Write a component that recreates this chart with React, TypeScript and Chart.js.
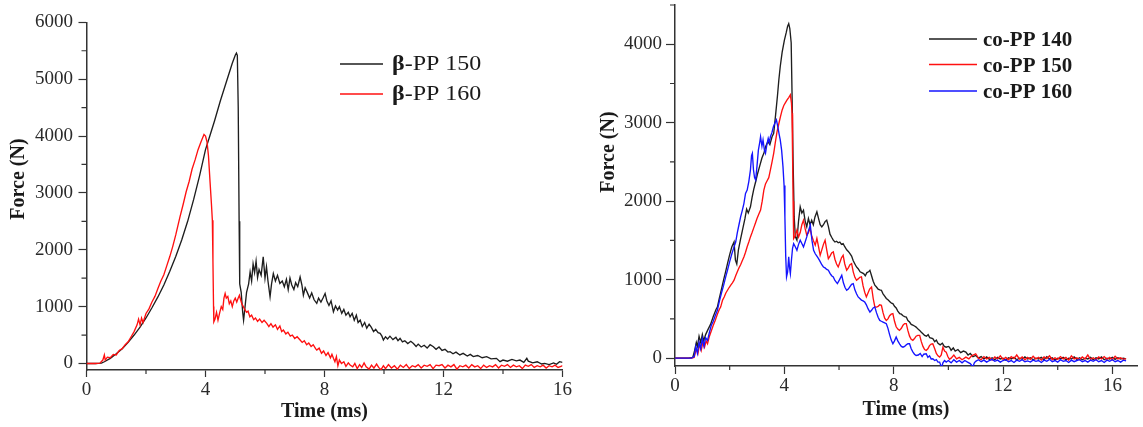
import React, { useEffect, useRef } from "react";
import { Chart, registerables } from "chart.js";

Chart.register(...registerables);

type Pt = [number, number];

// ---------- Left panel: beta-PP (time ms, force N) ----------
const betaPP150: Pt[] = [
  [0, 0], [0.3, 0], [0.5, 5], [0.6, 30], [0.8, 90], [1.0, 170], [1.2, 260], [1.4, 370], [1.6, 500], [1.8, 640],
  [2.0, 800], [2.2, 980], [2.4, 1170], [2.6, 1380], [2.8, 1620], [3.0, 1880], [3.2, 2170], [3.4, 2500], [3.6, 2880],
  [3.8, 3300], [4.0, 3760], [4.15, 4010], [4.3, 4260], [4.5, 4620], [4.7, 4950], [4.9, 5280], [5.0, 5420], [5.04, 5460],
  [5.07, 5420], [5.1, 4500], [5.13, 2500], [5.15, 1400], [5.2, 1250], [5.25, 900], [5.28, 760], [5.32, 950], [5.38, 1250],
  [5.45, 1400], [5.5, 1610], [5.55, 1450], [5.6, 1750], [5.65, 1600], [5.7, 1800], [5.75, 1510], [5.8, 1650], [5.87, 1550],
  [5.94, 1874], [6.0, 1500], [6.05, 1700], [6.1, 1450], [6.17, 1172], [6.22, 1400], [6.28, 1580], [6.35, 1450], [6.42, 1550],
  [6.5, 1407], [6.58, 1450], [6.65, 1350], [6.72, 1480], [6.78, 1300], [6.84, 1500], [6.9, 1380], [6.97, 1300], [7.03, 1420],
  [7.1, 1350], [7.18, 1520], [7.24, 1380], [7.29, 1200], [7.35, 1330], [7.42, 1250], [7.5, 1150], [7.57, 1240], [7.65, 1120],
  [7.74, 1056], [7.8, 1150], [7.88, 1080], [7.95, 1150], [8.02, 1231], [8.08, 1100], [8.15, 1020], [8.22, 1100], [8.3, 909],
  [8.37, 1010], [8.44, 940], [8.5, 1000], [8.58, 880], [8.65, 950], [8.72, 850], [8.8, 900], [8.86, 821], [8.93, 880],
  [9.0, 760], [9.07, 850], [9.13, 720], [9.2, 763], [9.27, 650], [9.35, 720], [9.42, 620], [9.5, 690], [9.57, 640],
  [9.65, 560], [9.72, 600], [9.8, 540], [9.87, 530], [9.93, 480], [9.98, 412], [10.05, 470], [10.12, 430], [10.2, 480],
  [10.3, 420], [10.4, 460], [10.47, 400], [10.54, 440], [10.62, 380], [10.7, 400], [10.8, 350], [10.9, 390], [10.99, 352],
  [11.08, 300], [11.15, 340], [11.25, 290], [11.35, 320], [11.45, 270], [11.55, 330], [11.66, 295], [11.75, 250], [11.85, 290],
  [11.95, 230], [12.05, 250], [12.15, 200], [12.22, 207], [12.32, 170], [12.42, 200], [12.55, 150], [12.66, 178], [12.8, 130],
  [12.9, 160], [13.0, 120], [13.15, 140], [13.3, 100], [13.45, 120], [13.6, 80], [13.78, 90], [13.9, 32], [14.0, 60],
  [14.15, 40], [14.3, 70], [14.45, 45], [14.57, 60], [14.7, 20], [14.8, 90], [14.85, 40], [15.0, 10], [15.15, 30],
  [15.3, -10], [15.4, 0], [15.55, -20], [15.7, 10], [15.8, -15], [15.9, 32], [16.0, 20],
];

const betaPP160: Pt[] = [
  [0, 0], [0.3, 0], [0.45, 5], [0.55, 60], [0.6, 150], [0.63, 60], [0.7, 110], [0.8, 100], [0.9, 160], [1.0, 150],
  [1.1, 230], [1.2, 260], [1.3, 330], [1.4, 380], [1.5, 470], [1.6, 560], [1.7, 680], [1.75, 780], [1.8, 680], [1.85, 800],
  [1.9, 720], [2.0, 880], [2.1, 960], [2.2, 1080], [2.3, 1180], [2.4, 1320], [2.5, 1450], [2.6, 1560], [2.7, 1720],
  [2.8, 1880], [2.9, 2060], [3.0, 2260], [3.14, 2575], [3.25, 2800], [3.35, 3020], [3.45, 3200], [3.55, 3420], [3.65, 3580],
  [3.75, 3760], [3.85, 3900], [3.95, 4026], [4.0, 4000], [4.05, 3900], [4.1, 3650], [4.15, 3220], [4.2, 2800], [4.23, 2518],
  [4.25, 1800], [4.27, 1000], [4.28, 733], [4.32, 780], [4.37, 900], [4.42, 760], [4.48, 900], [4.53, 1000], [4.58, 950],
  [4.62, 1150], [4.66, 1231], [4.7, 1150], [4.75, 1180], [4.8, 1050], [4.85, 1100], [4.9, 1000], [4.95, 1100], [5.0, 1150],
  [5.05, 1080], [5.1, 1150], [5.14, 1200], [5.18, 1120], [5.22, 1050], [5.27, 1000], [5.32, 950], [5.38, 900], [5.43, 920],
  [5.49, 821], [5.55, 850], [5.62, 770], [5.68, 800], [5.75, 740], [5.82, 780], [5.9, 720], [5.97, 760], [6.06, 705],
  [6.13, 650], [6.2, 700], [6.27, 640], [6.35, 680], [6.42, 600], [6.5, 660], [6.56, 560], [6.62, 588], [6.7, 520],
  [6.77, 550], [6.85, 480], [6.92, 500], [7.0, 440], [7.08, 470], [7.18, 412], [7.25, 370], [7.32, 400], [7.4, 330],
  [7.47, 360], [7.55, 300], [7.62, 330], [7.7, 260], [7.74, 237], [7.82, 270], [7.9, 180], [7.97, 220], [8.05, 140],
  [8.12, 190], [8.2, 100], [8.25, 160], [8.3, 91], [8.35, 30], [8.4, 120], [8.45, -40], [8.5, 60], [8.57, 0], [8.65, 30],
  [8.72, -50], [8.8, 10], [8.86, -26], [8.95, -60], [9.02, 0], [9.1, -90], [9.18, -20], [9.25, -70], [9.33, 10], [9.4, -60],
  [9.5, -100], [9.58, -30], [9.66, -80], [9.75, -10], [9.82, -70], [9.9, -110], [9.98, -40], [10.05, -90], [10.15, -20],
  [10.25, -80], [10.35, -40], [10.45, -100], [10.55, -30], [10.65, -70], [10.75, -20], [10.85, -90], [10.95, -40], [11.05, -60],
  [11.15, -20], [11.25, -80], [11.35, -30], [11.45, -50], [11.55, -20], [11.65, -90], [11.75, -30], [11.85, -40], [11.95, -20],
  [12.05, -80], [12.15, -30], [12.25, -60], [12.35, -20], [12.45, -100], [12.55, -40], [12.65, -60], [12.75, -30], [12.85, -80],
  [12.95, -20], [13.05, -60], [13.15, -40], [13.25, -90], [13.35, -30], [13.45, -70], [13.55, -40], [13.65, -60], [13.75, -20],
  [13.85, -80], [13.95, -30], [14.05, -50], [14.15, -20], [14.25, -70], [14.35, -30], [14.45, -60], [14.55, -40], [14.65, -90],
  [14.75, -30], [14.85, -50], [14.95, -20], [15.05, -70], [15.15, -40], [15.25, -60], [15.35, -30], [15.45, -80], [15.55, -40],
  [15.65, -60], [15.75, -30], [15.85, -70], [15.95, -50], [16.0, -40],
];

// ---------- Right panel: co-PP ----------
const coPP140: Pt[] = [
  [0, 0], [0.5, 0], [0.65, 10], [0.72, 100], [0.78, 200], [0.82, 150], [0.88, 280], [0.94, 200], [1.0, 300], [1.05, 220],
  [1.12, 300], [1.2, 360], [1.3, 430], [1.4, 530], [1.5, 620], [1.55, 651], [1.62, 760], [1.7, 880], [1.78, 1000],
  [1.85, 1100], [1.92, 1205], [2.0, 1320], [2.08, 1420], [2.16, 1482], [2.21, 1250], [2.26, 1200], [2.32, 1380], [2.4, 1520],
  [2.48, 1650], [2.56, 1780], [2.62, 1900], [2.68, 1850], [2.76, 1929], [2.82, 2050], [2.88, 2150], [2.95, 2248], [3.02, 2350],
  [3.1, 2450], [3.18, 2550], [3.25, 2610], [3.32, 2700], [3.4, 2760], [3.47, 2720], [3.55, 2820], [3.61, 2866], [3.68, 3100],
  [3.75, 3350], [3.8, 3550], [3.85, 3716], [3.92, 3900], [4.0, 4050], [4.07, 4150], [4.12, 4230], [4.16, 4262], [4.2, 4200],
  [4.25, 4020], [4.28, 3400], [4.32, 2500], [4.36, 1800], [4.4, 1550], [4.46, 1503], [4.52, 1750], [4.58, 1929], [4.64, 1850],
  [4.7, 1886], [4.76, 1750], [4.82, 1673], [4.88, 1780], [4.94, 1700], [5.0, 1758], [5.06, 1700], [5.12, 1800], [5.19, 1865],
  [5.25, 1780], [5.31, 1700], [5.37, 1673], [5.43, 1700], [5.49, 1740], [5.55, 1758], [5.61, 1680], [5.67, 1580], [5.73, 1540],
  [5.79, 1503], [5.85, 1480], [5.91, 1490], [5.97, 1470], [6.03, 1480], [6.09, 1450], [6.15, 1460], [6.21, 1420], [6.28, 1380],
  [6.34, 1360], [6.4, 1333], [6.46, 1300], [6.52, 1240], [6.58, 1200], [6.64, 1162], [6.7, 1140], [6.77, 1100], [6.83, 1090],
  [6.9, 1077], [6.96, 1050], [7.02, 1090], [7.08, 1100], [7.13, 1120], [7.19, 1050], [7.25, 980], [7.31, 930], [7.37, 907],
  [7.43, 880], [7.49, 870], [7.55, 865], [7.61, 820], [7.67, 790], [7.73, 760], [7.8, 740], [7.86, 720], [7.92, 700],
  [7.97, 695], [8.03, 660], [8.09, 640], [8.15, 600], [8.22, 567], [8.28, 560], [8.34, 540], [8.4, 530], [8.46, 524],
  [8.52, 480], [8.58, 460], [8.64, 430], [8.7, 420], [8.76, 410], [8.82, 396], [8.89, 370], [8.95, 354], [9.01, 330],
  [9.07, 310], [9.13, 290], [9.2, 280], [9.26, 300], [9.32, 260], [9.43, 248], [9.5, 210], [9.56, 230], [9.62, 190],
  [9.7, 170], [9.78, 190], [9.85, 150], [9.92, 140], [10.0, 150], [10.04, 140], [10.1, 100], [10.18, 130], [10.25, 90],
  [10.35, 110], [10.45, 70], [10.55, 90], [10.64, 77], [10.72, 40], [10.8, 60], [10.9, 20], [11.0, 34], [11.1, 0],
  [11.2, 20], [11.3, -10], [11.4, 15], [11.5, -15], [11.6, 5], [11.7, -20], [11.8, 10], [11.9, -10], [12.0, 0], [12.1, -25],
  [12.2, 5], [12.3, -10], [12.4, 10], [12.5, -20], [12.6, 0], [12.7, -15], [12.8, 15], [12.9, -10], [13.0, 5], [13.1, -20],
  [13.2, 0], [13.3, -10], [13.4, 10], [13.5, -20], [13.6, 20], [13.7, -10], [13.8, 5], [13.9, -25], [14.0, 0], [14.1, -10],
  [14.2, 10], [14.3, -20], [14.4, 0], [14.5, -10], [14.6, 15], [14.7, -15], [14.8, 5], [14.9, -20], [15.0, 0], [15.1, -10],
  [15.2, 10], [15.3, -20], [15.4, 5], [15.5, -10], [15.6, 15], [15.7, -20], [15.8, 0], [15.9, -10], [16.0, 10], [16.1, -15],
  [16.2, 5], [16.3, -10], [16.4, 0], [16.5, -10],
];

const coPP150: Pt[] = [
  [0, 0], [0.6, 0], [0.7, 10], [0.78, 120], [0.84, 60], [0.9, 180], [0.96, 100], [1.02, 200], [1.08, 140], [1.14, 220],
  [1.19, 184], [1.26, 280], [1.33, 350], [1.4, 420], [1.47, 480], [1.55, 560], [1.62, 620], [1.67, 651], [1.74, 740],
  [1.8, 780], [1.86, 830], [1.92, 865], [1.98, 900], [2.04, 930], [2.1, 960], [2.16, 993], [2.22, 1050], [2.28, 1100],
  [2.34, 1150], [2.4, 1190], [2.46, 1240], [2.52, 1290], [2.58, 1350], [2.64, 1420], [2.7, 1480], [2.76, 1545], [2.82, 1600],
  [2.88, 1660], [2.94, 1720], [3.0, 1780], [3.06, 1830], [3.13, 1886], [3.19, 2000], [3.25, 2142], [3.31, 2220], [3.37, 2260],
  [3.43, 2300], [3.49, 2400], [3.55, 2500], [3.61, 2610], [3.67, 2750], [3.73, 2880], [3.8, 2990], [3.86, 3080], [3.92, 3163],
  [3.98, 3220], [4.04, 3256], [4.1, 3290], [4.16, 3320], [4.22, 3355], [4.26, 3250], [4.28, 3120], [4.3, 2600], [4.32, 2000],
  [4.34, 1525], [4.4, 1560], [4.46, 1631], [4.52, 1545], [4.58, 1600], [4.64, 1700], [4.7, 1758], [4.76, 1650], [4.82, 1567],
  [4.88, 1600], [4.94, 1652], [5.0, 1560], [5.06, 1500], [5.13, 1440], [5.19, 1525], [5.25, 1420], [5.31, 1311], [5.37, 1380],
  [5.43, 1450], [5.49, 1503], [5.55, 1380], [5.61, 1268], [5.67, 1300], [5.73, 1340], [5.79, 1354], [5.85, 1260], [5.91, 1200],
  [5.97, 1162], [6.03, 1220], [6.09, 1280], [6.15, 1311], [6.21, 1200], [6.28, 1120], [6.34, 1150], [6.4, 1190], [6.46, 1205],
  [6.52, 1100], [6.58, 1030], [6.64, 993], [6.7, 1010], [6.76, 1030], [6.82, 1035], [6.88, 920], [6.94, 840], [7.0, 780],
  [7.06, 830], [7.12, 880], [7.19, 907], [7.25, 760], [7.31, 652], [7.37, 650], [7.43, 660], [7.49, 680], [7.55, 673],
  [7.61, 580], [7.67, 510], [7.73, 481], [7.79, 500], [7.85, 540], [7.91, 560], [7.97, 567], [8.03, 470], [8.09, 400],
  [8.15, 370], [8.21, 354], [8.28, 380], [8.34, 420], [8.4, 440], [8.46, 439], [8.52, 350], [8.58, 280], [8.64, 240],
  [8.7, 226], [8.76, 250], [8.82, 280], [8.88, 290], [8.95, 290], [9.01, 210], [9.07, 150], [9.13, 110], [9.19, 98],
  [9.25, 120], [9.31, 160], [9.37, 180], [9.43, 183], [9.5, 120], [9.56, 60], [9.62, 30], [9.68, 13], [9.74, 40], [9.8, 140],
  [9.86, 90], [9.92, 77], [9.98, 20], [10.04, -15], [10.1, 0], [10.2, 40], [10.3, -10], [10.4, 10], [10.5, -20], [10.64, 13],
  [10.75, -10], [10.85, 30], [11.0, 56], [11.1, 0], [11.2, -20], [11.3, 20], [11.4, -10], [11.5, 10], [11.6, -25], [11.7, 15],
  [11.8, -10], [11.9, 30], [12.0, -15], [12.1, 10], [12.2, -20], [12.3, 20], [12.4, -5], [12.5, 40], [12.6, -10], [12.7, 15],
  [12.8, -20], [12.9, 10], [13.0, -15], [13.1, 25], [13.2, -10], [13.3, 10], [13.4, -25], [13.5, 15], [13.6, -5], [13.7, 30],
  [13.8, -20], [13.9, 5], [14.0, -15], [14.1, 20], [14.2, -10], [14.3, 10], [14.4, -25], [14.5, 30], [14.6, -10], [14.7, 5],
  [14.8, -20], [14.9, 15], [15.0, -10], [15.1, 40], [15.2, -15], [15.3, 5], [15.4, -20], [15.5, 15], [15.6, -10], [15.7, 20],
  [15.8, -15], [15.9, 10], [16.0, -20], [16.1, 25], [16.2, -10], [16.3, 5], [16.4, -15], [16.5, -5],
];

const coPP160: Pt[] = [
  [0, 0], [0.6, 0], [0.7, 20], [0.76, 150], [0.82, 60], [0.88, 200], [0.94, 120], [1.0, 250], [1.06, 150], [1.12, 260],
  [1.19, 226], [1.26, 330], [1.33, 420], [1.4, 470], [1.47, 540], [1.55, 609], [1.62, 720], [1.7, 830], [1.78, 930],
  [1.85, 1030], [1.92, 1120], [2.0, 1230], [2.08, 1330], [2.16, 1418], [2.22, 1480], [2.28, 1600], [2.34, 1700], [2.4, 1801],
  [2.46, 1880], [2.52, 1970], [2.58, 2100], [2.64, 2142], [2.7, 2250], [2.76, 2400], [2.8, 2580], [2.83, 2610], [2.87, 2400],
  [2.91, 2300], [2.95, 2270], [3.0, 2450], [3.05, 2650], [3.1, 2750], [3.13, 2822], [3.18, 2700], [3.22, 2780], [3.27, 2650],
  [3.31, 2610], [3.36, 2720], [3.41, 2800], [3.45, 2750], [3.49, 2822], [3.55, 2880], [3.6, 2950], [3.66, 3000], [3.71, 3036],
  [3.76, 2950], [3.81, 2850], [3.85, 2780], [3.9, 2650], [3.95, 2440], [3.99, 2200], [4.02, 1800], [4.05, 1300], [4.08, 1035],
  [4.12, 1100], [4.16, 1290], [4.19, 1150], [4.22, 1077], [4.26, 1250], [4.3, 1400], [4.34, 1460], [4.4, 1420], [4.46, 1375],
  [4.52, 1450], [4.58, 1503], [4.64, 1460], [4.7, 1418], [4.76, 1480], [4.82, 1545], [4.88, 1620], [4.95, 1695], [5.01, 1500],
  [5.07, 1375], [5.13, 1330], [5.19, 1300], [5.25, 1268], [5.31, 1230], [5.37, 1190], [5.43, 1162], [5.49, 1150], [5.55, 1130],
  [5.61, 1120], [5.67, 1080], [5.73, 1050], [5.79, 1035], [5.85, 990], [5.94, 950], [6.02, 1000], [6.1, 1056], [6.16, 960],
  [6.22, 900], [6.28, 865], [6.34, 880], [6.4, 910], [6.46, 940], [6.52, 950], [6.58, 870], [6.64, 820], [6.7, 780],
  [6.76, 760], [6.82, 740], [6.88, 730], [6.94, 715], [7.0, 680], [7.06, 630], [7.13, 588], [7.19, 610], [7.25, 640],
  [7.31, 652], [7.37, 580], [7.43, 520], [7.49, 481], [7.55, 470], [7.61, 460], [7.67, 450], [7.73, 439], [7.79, 380],
  [7.85, 300], [7.91, 230], [7.97, 183], [8.03, 220], [8.09, 269], [8.15, 220], [8.22, 180], [8.28, 150], [8.34, 140],
  [8.4, 150], [8.46, 170], [8.52, 183], [8.58, 183], [8.64, 120], [8.7, 80], [8.76, 50], [8.82, 34], [8.9, 40], [8.97, 60],
  [9.04, 20], [9.1, 50], [9.19, 56], [9.25, 10], [9.31, 30], [9.37, -10], [9.43, -8], [9.5, -30], [9.56, -20], [9.62, -50],
  [9.68, -50], [9.72, -90], [9.76, -115], [9.8, -60], [9.86, -30], [9.92, -50], [10.0, -30], [10.1, -60], [10.2, -20],
  [10.3, -50], [10.4, -30], [10.5, -60], [10.6, -30], [10.7, -50], [10.8, -70], [10.9, -110], [10.95, -60], [11.0, -40],
  [11.1, -20], [11.2, -45], [11.3, -25], [11.4, -50], [11.5, -30], [11.6, -15], [11.7, -40], [11.8, -25], [11.9, -50],
  [12.0, -30], [12.1, -20], [12.2, -45], [12.3, -30], [12.4, -55], [12.5, -25], [12.6, -40], [12.7, -20], [12.8, -45],
  [12.9, -35], [13.0, -50], [13.1, -25], [13.2, -40], [13.3, -30], [13.4, -55], [13.5, -25], [13.6, -40], [13.7, -15],
  [13.8, -45], [13.9, -30], [14.0, -50], [14.1, -20], [14.2, -40], [14.3, -30], [14.4, -55], [14.5, -25], [14.6, -45],
  [14.7, -30], [14.8, -20], [14.9, -45], [15.0, -30], [15.1, -50], [15.2, -25], [15.3, -40], [15.4, -20], [15.5, -45],
  [15.6, -30], [15.7, -55], [15.8, -25], [15.9, -40], [16.0, -20], [16.1, -45], [16.2, -30], [16.3, -50], [16.4, -25],
  [16.5, -35],
];

// ---------- ticks (all tick positions) and labelled ticks ----------
const leftXTicks = [0, 2, 4, 6, 8, 10, 12, 14, 16];
const leftXLabels = [0, 4, 8, 12, 16];
const leftYTicks = [0, 500, 1000, 1500, 2000, 2500, 3000, 3500, 4000, 4500, 5000, 5500, 6000];
const leftYLabels = [0, 1000, 2000, 3000, 4000, 5000, 6000];
const rightXTicks = [0, 2, 4, 6, 8, 10, 12, 14, 16];
const rightXLabels = [0, 4, 8, 12, 16];
const rightYTicks = [0, 500, 1000, 1500, 2000, 2500, 3000, 3500, 4000, 4500];
const rightYLabels = [0, 1000, 2000, 3000, 4000];

const AXIS = "#333333";
const TEXT = "#1a1a1a";
const TICK_TEXT = "#2a2a2a";
const SERIF = "'Liberation Serif', 'Times New Roman', serif";

interface Series { label: string; data: Pt[]; color: string; order: number }
interface PanelSpec {
  left: number; width: number;
  series: Series[];
  xMin: number; xMax: number; yMin: number; yMax: number;
  xTicks: number[]; yTicks: number[];
  xLabels: number[]; yLabels: number[];
  yAxisWidth: number; xAxisHeight: number; padTop: number; padRight: number;
  xMajorLen: number; yMajorLen: number; xMinorLen: number; yMinorLen: number;
  xTickPad: number; yTickPad: number; xTitlePad: number;
  yTitle: string; yTitleX: number; yTitleY: number;
  legend: { x0: number; x1: number; textX: number; lineY: number[]; baseY: number[]; boldAll: boolean; scaleX: number; size: number };
}

const isIn = (list: number[], v: number) => list.some((m) => Math.abs(m - v) < 1e-6);

const decorPlugin = {
  id: "decor",
  afterDraw(chart: any, _args: any, o: any) {
    const ctx: CanvasRenderingContext2D = chart.ctx;
    const area = chart.chartArea;
    const xs = chart.scales.x;
    const ys = chart.scales.y;
    ctx.save();
    // minor ticks
    ctx.strokeStyle = AXIS;
    ctx.lineWidth = 1.2;
    ctx.beginPath();
    xs.ticks.forEach((t: any) => {
      if (!isIn(o.xLabels, t.value)) {
        const p = xs.getPixelForValue(t.value);
        ctx.moveTo(p, area.bottom);
        ctx.lineTo(p, area.bottom + o.xMinorLen);
      }
    });
    ys.ticks.forEach((t: any) => {
      if (!isIn(o.yLabels, t.value)) {
        const p = ys.getPixelForValue(t.value);
        ctx.moveTo(area.left, p);
        ctx.lineTo(area.left - o.yMinorLen, p);
      }
    });
    ctx.stroke();

    // y-axis title
    ctx.save();
    ctx.translate(o.yTitleX, o.yTitleY);
    ctx.rotate(-Math.PI / 2);
    ctx.font = `bold 20px ${SERIF}`;
    ctx.fillStyle = TEXT;
    ctx.textAlign = "center";
    ctx.textBaseline = "middle";
    ctx.fillText(o.yTitle, 0, 0);
    ctx.restore();

    // legend
    const lg = o.legend;
    chart.data.datasets.forEach((ds: any, i: number) => {
      ctx.strokeStyle = ds.borderColor;
      ctx.lineWidth = 1.5;
      ctx.beginPath();
      ctx.moveTo(lg.x0, lg.lineY[i]);
      ctx.lineTo(lg.x1, lg.lineY[i]);
      ctx.stroke();

      const label: string = ds.label;
      const parts: { t: string; bold: boolean }[] = lg.boldAll
        ? [{ t: label, bold: true }]
        : [{ t: label.slice(0, 1), bold: true }, { t: label.slice(1), bold: false }];
      ctx.save();
      ctx.translate(lg.textX, lg.baseY[i]);
      ctx.scale(lg.scaleX, 1);
      ctx.fillStyle = TEXT;
      ctx.textAlign = "left";
      ctx.textBaseline = "alphabetic";
      let cx = 0;
      parts.forEach((p) => {
        ctx.font = `${p.bold ? "bold " : ""}${lg.size}px ${SERIF}`;
        ctx.fillText(p.t, cx, 0);
        cx += ctx.measureText(p.t).width;
      });
      ctx.restore();
    });
    ctx.restore();
  },
};

function buildConfig(s: PanelSpec): any {
  return {
    type: "line",
    data: {
      datasets: s.series.map((ser) => ({
        label: ser.label,
        data: ser.data.map(([x, y]) => ({ x, y })),
        borderColor: ser.color,
        backgroundColor: ser.color,
        borderWidth: 1.35,
        pointRadius: 0,
        tension: 0,
        fill: false,
        order: ser.order,
      })),
    },
    options: {
      animation: false,
      responsive: true,
      maintainAspectRatio: false,
      events: [],
      layout: { padding: { left: 0, top: s.padTop, right: s.padRight, bottom: 0 } },
      plugins: {
        legend: { display: false },
        tooltip: { enabled: false },
        decor: {
          xLabels: s.xLabels, yLabels: s.yLabels, xMinorLen: s.xMinorLen, yMinorLen: s.yMinorLen,
          yTitle: s.yTitle, yTitleX: s.yTitleX, yTitleY: s.yTitleY, legend: s.legend,
        },
      },
      scales: {
        x: {
          type: "linear",
          min: s.xMin,
          max: s.xMax,
          afterBuildTicks: (sc: any) => {
            sc.ticks = s.xTicks.map((v) => ({ value: v }));
          },
          grid: {
            display: true,
            drawOnChartArea: false,
            drawTicks: true,
            tickLength: s.xMajorLen,
            tickWidth: 1.2,
            tickColor: (c: any) => (c.tick && isIn(s.xLabels, c.tick.value) ? AXIS : "rgba(0,0,0,0)"),
          },
          border: { display: true, color: AXIS, width: 1.5 },
          ticks: {
            autoSkip: false,
            maxRotation: 0,
            padding: s.xTickPad,
            color: TICK_TEXT,
            font: { family: SERIF, size: 19 },
            callback: (v: any) => (isIn(s.xLabels, v) ? String(v) : ""),
          },
          title: {
            display: true,
            text: "Time (ms)",
            color: TEXT,
            font: { family: SERIF, size: 20, weight: "bold" },
            padding: { top: 0, bottom: s.xTitlePad },
          },
          afterFit: (sc: any) => {
            sc.height = s.xAxisHeight;
            sc.paddingLeft = 0;
            sc.paddingRight = 0;
          },
        },
        y: {
          type: "linear",
          min: s.yMin,
          max: s.yMax,
          afterBuildTicks: (sc: any) => {
            sc.ticks = s.yTicks.map((v) => ({ value: v }));
          },
          grid: {
            display: true,
            drawOnChartArea: false,
            drawTicks: true,
            tickLength: s.yMajorLen,
            tickWidth: 1.2,
            tickColor: (c: any) => (c.tick && isIn(s.yLabels, c.tick.value) ? AXIS : "rgba(0,0,0,0)"),
          },
          border: { display: true, color: AXIS, width: 1.5 },
          ticks: {
            autoSkip: false,
            padding: s.yTickPad,
            color: TICK_TEXT,
            font: { family: SERIF, size: 19 },
            callback: (v: any) => (isIn(s.yLabels, v) ? String(v) : ""),
          },
          afterFit: (sc: any) => {
            sc.width = s.yAxisWidth;
            sc.paddingTop = 0;
            sc.paddingBottom = 0;
          },
        },
      },
    },
    plugins: [decorPlugin],
  };
}

const leftSpec: PanelSpec = {
  left: 0, width: 580,
  series: [
    { label: "β-PP 150", data: betaPP150, color: "#1e1e1e", order: 1 },
    { label: "β-PP 160", data: betaPP160, color: "#ff1010", order: 0 },
  ],
  xMin: 0, xMax: 16, yMin: -115, yMax: 6000,
  xTicks: leftXTicks, yTicks: leftYTicks,
  xLabels: leftXLabels, yLabels: leftYLabels,
  yAxisWidth: 86.5, xAxisHeight: 57, padTop: 22.3, padRight: 17.5,
  xMajorLen: 7, yMajorLen: 8, xMinorLen: 4, yMinorLen: 5,
  xTickPad: 2, yTickPad: 5.5, xTitlePad: 3,
  yTitle: "Force (N)", yTitleX: 19, yTitleY: 179,
  legend: { x0: 340, x1: 383, textX: 392, lineY: [64, 94], baseY: [70, 99.5], boldAll: false, scaleX: 1.2, size: 20 },
};

const rightSpec: PanelSpec = {
  left: 580, width: 563,
  series: [
    { label: "co-PP 140", data: coPP140, color: "#1e1e1e", order: 2 },
    { label: "co-PP 150", data: coPP150, color: "#ff1010", order: 1 },
    { label: "co-PP 160", data: coPP160, color: "#1414ff", order: 0 },
  ],
  xMin: 0, xMax: 16.9, yMin: -100, yMax: 4500,
  xTicks: rightXTicks, yTicks: rightYTicks,
  xLabels: rightXLabels, yLabels: rightYLabels,
  yAxisWidth: 95, xAxisHeight: 61, padTop: 5, padRight: 6,
  xMajorLen: 8, yMajorLen: 9, xMinorLen: 4, yMinorLen: 5,
  xTickPad: 1, yTickPad: 4, xTitlePad: 5,
  yTitle: "Force (N)", yTitleX: 29, yTitleY: 152,
  legend: { x0: 349, x1: 397, textX: 403, lineY: [39, 64.5, 91], baseY: [46, 71.7, 98.3], boldAll: true, scaleX: 1.05, size: 20 },
};

function Panel({ spec }: { spec: PanelSpec }) {
  const ref = useRef<HTMLCanvasElement | null>(null);
  useEffect(() => {
    if (!ref.current) return;
    const chart = new Chart(ref.current, buildConfig(spec));
    return () => chart.destroy();
  }, [spec]);
  return (
    <div style={{ position: "absolute", left: spec.left, top: 0, width: spec.width, height: 427 }}>
      <canvas ref={ref} />
    </div>
  );
}

export default function App() {
  return (
    <div style={{ position: "absolute", left: 0, top: 0, width: 1143, height: 427, background: "#ffffff", overflow: "hidden" }}>
      <Panel spec={leftSpec} />
      <Panel spec={rightSpec} />
    </div>
  );
}
